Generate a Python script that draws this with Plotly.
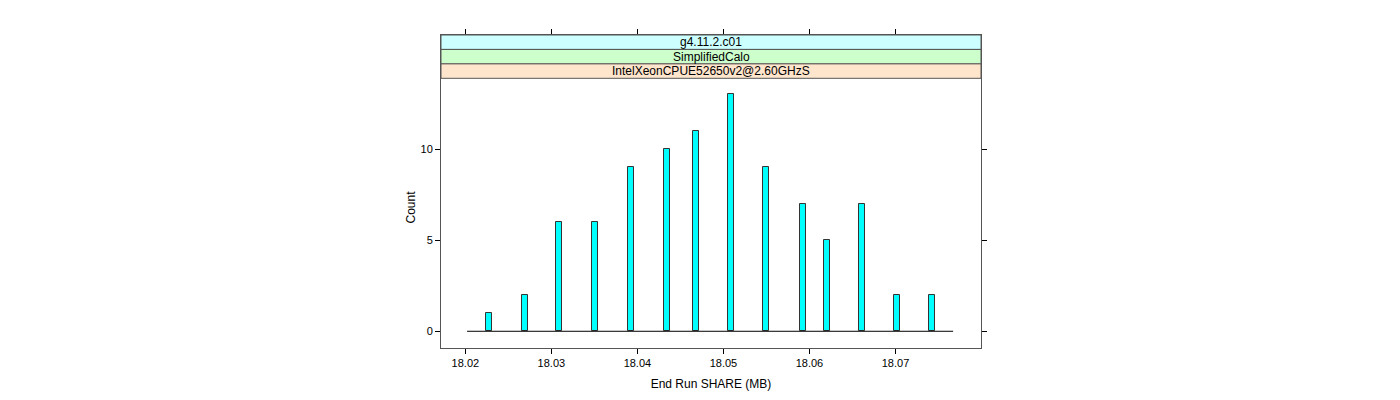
"""Histogram - End Run SHARE, lattice style panel with strips."""
import plotly.graph_objects as go

# bar centres (MB) and counts
share_mb = [18.0227, 18.0269, 18.0309, 18.0351, 18.0392, 18.0434, 18.0468,
            18.0509, 18.0550, 18.0592, 18.0620, 18.0661, 18.0702, 18.0743]
counts = [1, 2, 6, 6, 9, 10, 11, 13, 9, 7, 5, 7, 2, 2]
hist_range = [18.0202, 18.0767]   # first / last break of the histogram
strip_labels = ["g4.11.2.c01", "SimplifiedCalo", "IntelXeonCPUE52650v2@2.60GHzS"]
strip_colors = ["#CCFFFF", "#CCFFCC", "#FFE5CC"]
x_ticks = [18.02, 18.03, 18.04, 18.05, 18.06, 18.07]
y_ticks = [0, 5, 10]

FONT = "Liberation Sans, Arial, sans-serif"
FRAME = "#555555"
OFF = 8  # page body margin of the html page

# pixel layout of the lattice panel (page coordinates)
top, panel_top, bottom = 35, 78.3, 348
plot_h = bottom - top
strip_h = (panel_top - top) / len(strip_labels)


def frac(py):
    """pixel row -> y domain fraction"""
    return (bottom - py) / plot_h


fig = go.Figure()
fig.add_trace(go.Scatter(x=hist_range, y=[0, 0], mode="lines",
    line=dict(color="black", width=1), hoverinfo="skip", showlegend=False))
fig.add_trace(go.Bar(x=share_mb, y=counts, width=0.0007, marker_color="#00FFFF",
    marker_line=dict(color="#333333", width=1), showlegend=False,
    hovertemplate="<b>%{x}</b><br>Count: %{y}<extra></extra>"))

for i, (lab, col) in enumerate(zip(strip_labels, strip_colors)):
    y1 = frac(top + i * strip_h)
    y0 = frac(top + (i + 1) * strip_h)
    fig.add_shape(type="rect", xref="x domain", yref="y domain", x0=0, x1=1, y0=y0, y1=y1,
        fillcolor=col, line=dict(color=FRAME, width=1), layer="above")
    fig.add_annotation(text=lab, xref="paper", yref="y domain", x=0.5, y=(y0 + y1) / 2,
        showarrow=False, font=dict(family=FONT, size=12, color="black"), yanchor="middle")

fig.add_annotation(text="Count", xref="paper", yref="paper", x=0, xshift=-40,
    y=frac(207.5), textangle=-90, showarrow=False,
    font=dict(family=FONT, size=12, color="black"))

fig.update_layout(width=1400, height=400, paper_bgcolor="white", plot_bgcolor="white",
    margin=dict(l=441 - OFF, r=419 + OFF, t=top - OFF, b=400 - bottom + OFF),
    font=dict(family=FONT, size=11, color="black"),
    xaxis=dict(range=[18.01717, 18.07994], tickvals=x_ticks,
        ticktext=[f"{v:.2f}" for v in x_ticks], ticks="outside", ticklen=5,
        tickcolor="black", showline=True, linecolor=FRAME, mirror="ticks",
        showgrid=False, zeroline=False,
        title=dict(text="End Run SHARE (MB)", font=dict(size=12), standoff=11)),
    yaxis=dict(range=[-0.918, (331 - top) / 18.2], tickvals=y_ticks, ticks="outside",
        ticklen=5, tickcolor="black", showline=True, linecolor=FRAME, mirror="ticks",
        showgrid=False, zeroline=False),
    bargap=0)

fig.write_html("out.html")
